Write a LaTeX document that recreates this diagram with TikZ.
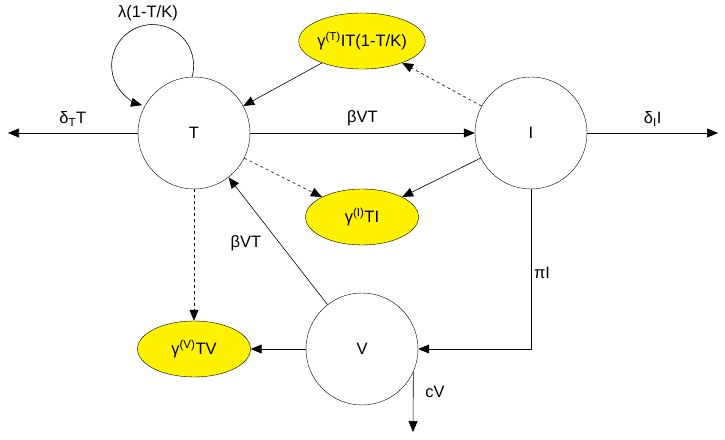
\documentclass[tikz,border=0pt]{standalone}
\usepackage{fontspec}
\setmainfont{Liberation Sans}
\usepackage{tikz}
\usetikzlibrary{arrows.meta,shapes}

\begin{document}
\begin{tikzpicture}[x=1pt,y=1pt,
        font=\fontsize{16.5}{19}\selectfont,
        comp/.style={circle, draw, minimum size=112pt, inner sep=0pt},
        loss/.style={ellipse, draw, fill=yellow, minimum width=113pt, minimum height=56pt, inner sep=0pt},
        flow/.style={-{Triangle[length=11pt,width=9pt]}, line width=0.6pt},
        kill/.style={flow, dashed}]
            \useasboundingbox (0,0) rectangle (725,439);

            \node[comp] (T) at (194,306) {T};
            \node[comp] (I) at (531,306) {I};
            \node[comp] (V) at (362,90) {V};

            \node[loss] (LT) at (362,398) {γ\textsuperscript{(T)}IT(1-T/K)};
            \node[loss] (LI) at (362,222) {γ\textsuperscript{(I)}TI};
            \node[loss] (LV) at (194,90) {γ\textsuperscript{(V)}TV};

            \coordinate (outT) at (8,306);
            \coordinate (outI) at (718,306);
            \coordinate (outV) at (413,7);

            \draw[flow] (T.92) arc[start angle=-16, end angle=255, radius=41];
            \node (growth) at (148,426) {λ(1-T/K)};

            \draw[flow] (T.west) -- node[above=3pt]{δ\textsubscript{T}T} (outT);
            \draw[flow] (T) -- node[above=3pt]{βVT} (I);
            \draw[flow] (I.east) -- node[above=3pt]{δ\textsubscript{I}I} (outI);

            \draw[flow] (LT) -- (T);
            \draw[kill] (I) -- (LT);
            \draw[kill] (T) -- (LI);
            \draw[flow] (I) -- (LI);
            \draw[kill] (T) -- (LV);

            \draw[flow] (V) -- (T);
            \node (infect) at (246,196) {βVT};
            \draw[flow] (V) -- (LV);
            \draw[flow] (I.south) |- (V.east);
            \node (prod) at (542,166) {πI};
            \draw[flow] (V.-24) -- (outV);
            \node (clear) at (435,47) {cV};

            \end{tikzpicture}
\end{document}
